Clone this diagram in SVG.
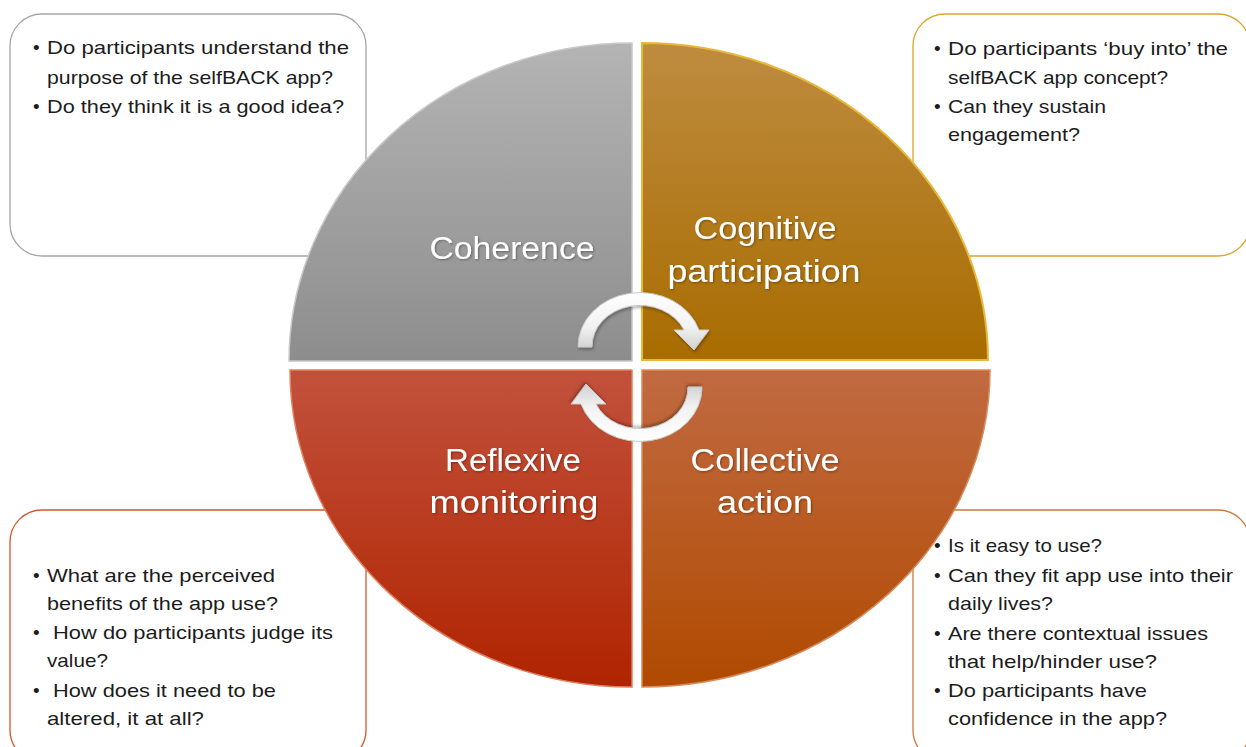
<svg xmlns="http://www.w3.org/2000/svg" width="1246" height="747" viewBox="0 0 1246 747">
<defs>
<linearGradient id="gGray" x1="0" y1="0" x2="0" y2="1"><stop offset="0" stop-color="#b4b4b4"/><stop offset="1" stop-color="#8d8d8d"/></linearGradient>
<linearGradient id="gGold" x1="0" y1="0" x2="0" y2="1"><stop offset="0" stop-color="#bf8c40"/><stop offset="1" stop-color="#a86c00"/></linearGradient>
<linearGradient id="gRed" x1="0" y1="0" x2="0" y2="1"><stop offset="0" stop-color="#c2513c"/><stop offset="1" stop-color="#b02400"/></linearGradient>
<linearGradient id="gOrange" x1="0" y1="0" x2="0" y2="1"><stop offset="0" stop-color="#c16a42"/><stop offset="1" stop-color="#b04a00"/></linearGradient>
<linearGradient id="gArrow" x1="0" y1="0" x2="0" y2="1"><stop offset="0" stop-color="#ffffff"/><stop offset="0.6" stop-color="#f2f2f2"/><stop offset="1" stop-color="#cfcfcf"/></linearGradient>
<filter id="sh" x="-20%" y="-20%" width="140%" height="140%"><feDropShadow dx="1" dy="2" stdDeviation="1.5" flood-color="#000" flood-opacity="0.3"/></filter>
<filter id="tsh" x="-10%" y="-20%" width="120%" height="140%"><feDropShadow dx="1" dy="1" stdDeviation="0.8" flood-color="#000" flood-opacity="0.35"/></filter>
</defs>
<style>
.box{fill:#fff;stroke-width:1.3}
.q{font-family:"Liberation Sans",Arial,sans-serif;font-size:19px;fill:#1c1c1c}
.lbl{font-family:"Liberation Sans",Arial,sans-serif;font-size:31px;fill:#fff;text-anchor:middle}
.arrow{fill:url(#gArrow);stroke:#c8c8c8;stroke-width:1}
</style>
<rect width="1246" height="747" fill="#fff"/>

<g id="box-coherence">
<rect class="box" x="10" y="14" width="356" height="242" rx="32" stroke="#a6a6a6"/>
<text class="q"><tspan x="33" y="54">•</tspan><tspan x="47" y="54" textLength="302" lengthAdjust="spacingAndGlyphs">Do participants understand the</tspan><tspan x="47" y="84" textLength="286" lengthAdjust="spacingAndGlyphs">purpose of the selfBACK app?</tspan><tspan x="33" y="113">•</tspan><tspan x="47" y="113" textLength="297" lengthAdjust="spacingAndGlyphs">Do they think it is a good idea?</tspan></text>
</g>

<g id="box-cognitive">
<rect class="box" x="913" y="14" width="337" height="242" rx="32" stroke="#d9a52a"/>
<text class="q"><tspan x="934" y="55">•</tspan><tspan x="948" y="55" textLength="280" lengthAdjust="spacingAndGlyphs">Do participants ‘buy into’ the</tspan><tspan x="948" y="84" textLength="220" lengthAdjust="spacingAndGlyphs">selfBACK app concept?</tspan><tspan x="934" y="113">•</tspan><tspan x="948" y="113" textLength="158" lengthAdjust="spacingAndGlyphs">Can they sustain</tspan><tspan x="948" y="141" textLength="132" lengthAdjust="spacingAndGlyphs">engagement?</tspan></text>
</g>

<g id="box-reflexive">
<rect class="box" x="10" y="510" width="356" height="252" rx="32" stroke="#d0562e"/>
<text class="q"><tspan x="33" y="582">•</tspan><tspan x="47" y="582" textLength="228" lengthAdjust="spacingAndGlyphs">What are the perceived</tspan><tspan x="47" y="610" textLength="231" lengthAdjust="spacingAndGlyphs">benefits of the app use?</tspan><tspan x="33" y="639">•</tspan><tspan x="53" y="639" textLength="280" lengthAdjust="spacingAndGlyphs">How do participants judge its</tspan><tspan x="47" y="667" textLength="61" lengthAdjust="spacingAndGlyphs">value?</tspan><tspan x="33" y="697">•</tspan><tspan x="53" y="697" textLength="223" lengthAdjust="spacingAndGlyphs">How does it need to be</tspan><tspan x="47" y="725" textLength="157" lengthAdjust="spacingAndGlyphs">altered, it at all?</tspan></text>
</g>

<g id="box-collective">
<rect class="box" x="913" y="510" width="337" height="252" rx="32" stroke="#c87a40"/>
<text class="q"><tspan x="934" y="552">•</tspan><tspan x="948" y="552" textLength="154" lengthAdjust="spacingAndGlyphs">Is it easy to use?</tspan><tspan x="934" y="582">•</tspan><tspan x="948" y="582" textLength="285" lengthAdjust="spacingAndGlyphs">Can they fit app use into their</tspan><tspan x="948" y="610" textLength="105" lengthAdjust="spacingAndGlyphs">daily lives?</tspan><tspan x="934" y="640">•</tspan><tspan x="948" y="640" textLength="260" lengthAdjust="spacingAndGlyphs">Are there contextual issues</tspan><tspan x="948" y="668" textLength="209" lengthAdjust="spacingAndGlyphs">that help/hinder use?</tspan><tspan x="934" y="697">•</tspan><tspan x="948" y="697" textLength="199" lengthAdjust="spacingAndGlyphs">Do participants have</tspan><tspan x="948" y="725" textLength="219" lengthAdjust="spacingAndGlyphs">confidence in the app?</tspan></text>
</g>

<g id="q-coherence">
<path d="M632,361 L289,361 A343,318 0 0 1 632,43 Z" fill="url(#gGray)" stroke="#c8c8c8" stroke-width="1.5"/>
<text class="lbl" x="512" y="259" filter="url(#tsh)" textLength="165" lengthAdjust="spacingAndGlyphs">Coherence</text>
</g>
<g id="q-cognitive">
<path d="M642,360 L642,43 A346,317 0 0 1 988,360 Z" fill="url(#gGold)" stroke="#e8b83a" stroke-width="2"/>
<text class="lbl" filter="url(#tsh)"><tspan x="765" y="239" textLength="143" lengthAdjust="spacingAndGlyphs">Cognitive</tspan><tspan x="764" y="282" textLength="193" lengthAdjust="spacingAndGlyphs">participation</tspan></text>
</g>
<g id="q-reflexive">
<path d="M632,370 L632,687 A342,317 0 0 1 290,370 Z" fill="url(#gRed)" stroke="#e08060" stroke-width="1.5"/>
<text class="lbl" filter="url(#tsh)"><tspan x="513" y="471" textLength="136" lengthAdjust="spacingAndGlyphs">Reflexive</tspan><tspan x="514" y="513" textLength="169" lengthAdjust="spacingAndGlyphs">monitoring</tspan></text>
</g>
<g id="q-collective">
<path d="M642,370 L990,370 A348,317 0 0 1 642,687 Z" fill="url(#gOrange)" stroke="#d88a5a" stroke-width="1.5"/>
<text class="lbl" filter="url(#tsh)"><tspan x="765" y="471" textLength="149" lengthAdjust="spacingAndGlyphs">Collective</tspan><tspan x="765" y="513" textLength="96" lengthAdjust="spacingAndGlyphs">action</tspan></text>
</g>

<g id="connectors">
<path class="arrow" filter="url(#sh)" d="M578,347 A62,54 0 0 1 699,330 L709,330 L694,350 L674,330 L684,330 A48,41 0 0 0 592,347 Z"/>
<path class="arrow" filter="url(#sh)" transform="rotate(180 640 367)" d="M578,347 A62,54 0 0 1 699,330 L709,330 L694,350 L674,330 L684,330 A48,41 0 0 0 592,347 Z"/>
</g>
</svg>
